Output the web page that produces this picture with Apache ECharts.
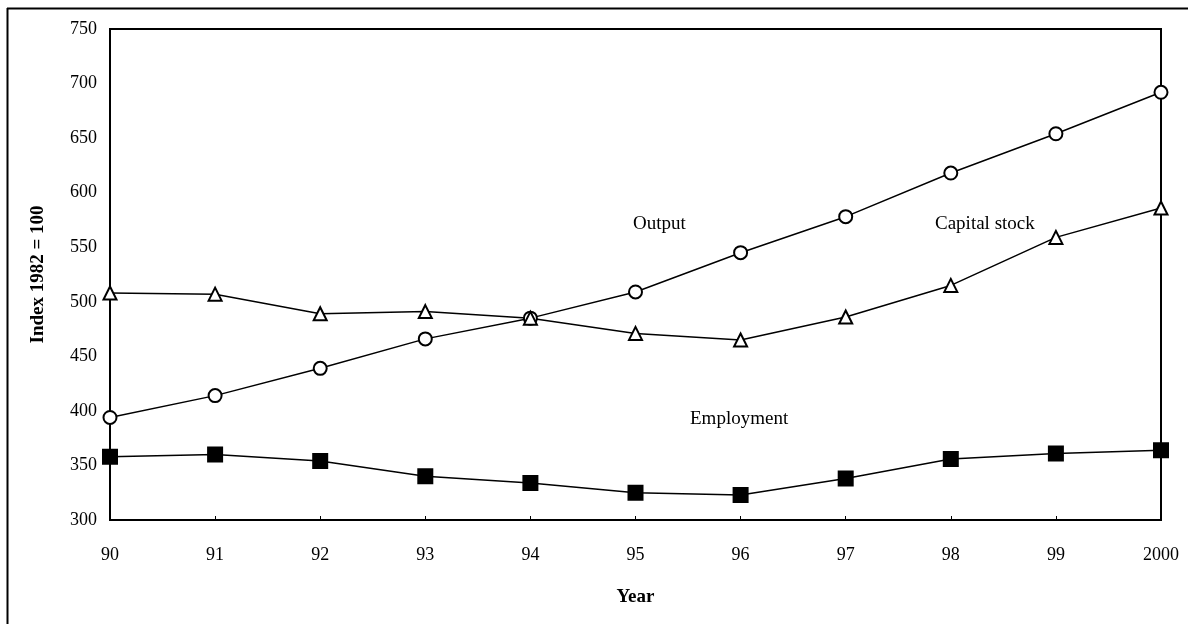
<!DOCTYPE html>
<html>
<head>
<meta charset="utf-8">
<script src="https://cdn.jsdelivr.net/npm/echarts@6/dist/echarts.min.js"></script>
<style>
  html, body { margin: 0; padding: 0; background: #fff; }
  #chart { width: 1188px; height: 624px; }
</style>
</head>
<body>
<div id="chart"></div>
<script>
// years on the x axis
const years = ['90', '91', '92', '93', '94', '95', '96', '97', '98', '99', '2000']

// index values (1982 = 100)
const output = [394, 414, 439, 466, 485, 509, 545, 578, 618, 654, 692]
const capitalStock = [508, 507, 489, 491, 485, 471, 465, 486, 515, 559, 586]
const employment = [358, 360, 354, 340, 334, 325, 323, 338, 356, 361, 364]

const serif = 'Liberation Serif'

const chart = echarts.init(document.getElementById('chart'))

const lineSeries = (name, data, symbol, filled, size) => ({
  name,
  type: 'line',
  data,
  symbol,
  symbolSize: size,
  showAllSymbol: true,
  lineStyle: {color: '#000', width: 1.5},
  itemStyle: {
    color: filled ? '#000' : '#fff',
    borderColor: '#000',
    borderWidth: 2
  },
  z: filled ? 3 : 4,
  animation: false
})

chart.setOption({
  backgroundColor: '#fff',
  animation: false,
  grid: {
    left: 110, right: 27, top: 29, bottom: 104,
    show: true, borderColor: '#000', borderWidth: 2
  },
  xAxis: {
    type: 'category',
    data: years,
    boundaryGap: false,
    name: 'Year',
    nameLocation: 'middle',
    nameGap: 68,
    nameTextStyle: {fontFamily: serif, fontWeight: 'bold', fontSize: 19, color: '#000'},
    axisLine: {lineStyle: {color: '#000', width: 2}},
    axisTick: {inside: true, length: 4, lineStyle: {color: '#000'}},
    axisLabel: {fontFamily: serif, fontSize: 18, color: '#000', margin: 26},
    splitLine: {show: false}
  },
  yAxis: {
    type: 'value',
    min: 300,
    max: 750,
    interval: 50,
    name: 'Index 1982 = 100',
    nameLocation: 'middle',
    nameGap: 62,
    nameTextStyle: {fontFamily: serif, fontWeight: 'bold', fontSize: 19, color: '#000'},
    axisLine: {show: true, lineStyle: {color: '#000', width: 2}},
    axisTick: {show: false},
    axisLabel: {fontFamily: serif, fontSize: 18, color: '#000', margin: 13},
    splitLine: {show: false}
  },
  series: [
    lineSeries('Output', output, 'circle', false, 13),
    lineSeries('Capital stock', capitalStock, 'triangle', false, 13),
    lineSeries('Employment', employment, 'rect', true, 14)
  ],
  graphic: [
    // outer frame (left and top edges of the scanned box)
    {type: 'line', shape: {x1: 7.5, y1: 8, x2: 7.5, y2: 624}, style: {stroke: '#000', lineWidth: 2}},
    {type: 'line', shape: {x1: 7, y1: 8.5, x2: 1188, y2: 8.5}, style: {stroke: '#000', lineWidth: 2}},
    {type: 'text', left: 633, top: 215, style: {text: 'Output', font: '19px "Liberation Serif"', fill: '#000'}},
    {type: 'text', left: 935, top: 215, style: {text: 'Capital stock', font: '19px "Liberation Serif"', fill: '#000'}},
    {type: 'text', left: 690, top: 410, style: {text: 'Employment', font: '19px "Liberation Serif"', fill: '#000'}}
  ]
})
</script>
</body>
</html>
